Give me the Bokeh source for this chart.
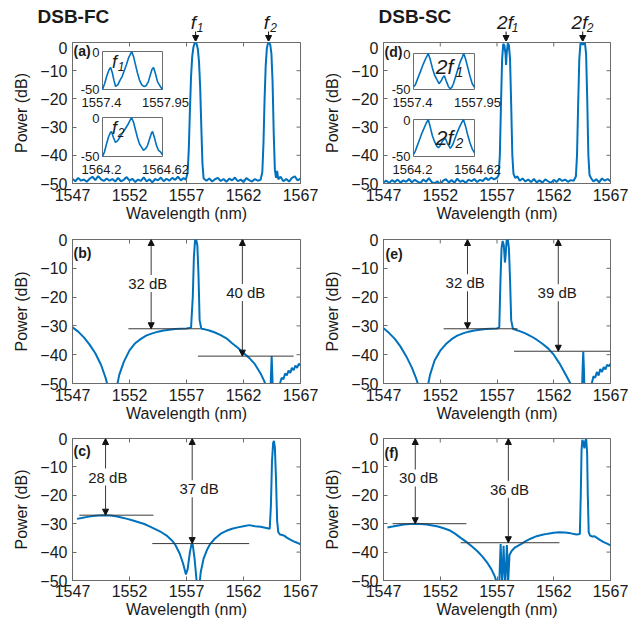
from bokeh.plotting import figure
from bokeh.layouts import gridplot, column, row
from bokeh.models import Range1d, FixedTicker, Label, Arrow, NormalHead
from bokeh.embed import file_html
from bokeh.resources import INLINE

# ---------------------------------------------------------------- data
X_RANGE = (1547, 1567)
Y_RANGE = (-50, 0)
X_TICKS = [1547, 1552, 1557, 1562, 1567]
Y_TICKS = [-50, -40, -30, -20, -10, 0]
INSET_Y = (-50, 0)

# (a) DSB-FC, optical spectrum (wavelength nm, power dB)
A_TRACE = [
    (1547.0, -48.4), (1547.25, -49.2), (1547.5, -48.0), (1547.75, -49.0), (1548.0, -48.6),
    (1548.25, -49.4), (1548.5, -48.3), (1548.75, -47.6), (1549.0, -48.8), (1549.25, -47.4),
    (1549.5, -48.5), (1549.75, -49.1), (1550.0, -48.2), (1550.25, -49.0), (1550.5, -48.4),
    (1550.75, -49.3), (1551.0, -48.0), (1551.25, -49.2), (1551.5, -48.7), (1551.75, -47.7),
    (1552.0, -49.0), (1552.25, -48.3), (1552.5, -49.5), (1552.75, -48.6), (1553.0, -49.1),
    (1553.25, -47.8), (1553.5, -49.3), (1553.75, -48.5), (1554.0, -49.6), (1554.25, -48.4),
    (1554.5, -48.9), (1554.75, -47.9), (1555.0, -49.2), (1555.25, -48.3), (1555.5, -49.0),
    (1555.75, -48.0), (1556.0, -48.7), (1556.25, -47.6), (1556.5, -48.9), (1556.75, -48.1),
    (1556.95, -48.6), (1557.1, -46.0), (1557.2, -38.0), (1557.3, -24.0), (1557.4, -12.0),
    (1557.5, -5.0), (1557.6, -1.8), (1557.7, -0.4), (1557.8, 0.0), (1557.9, -0.6),
    (1558.0, -2.5), (1558.1, -7.0), (1558.2, -16.0), (1558.3, -30.0), (1558.4, -43.0),
    (1558.5, -48.2), (1558.75, -49.0), (1559.0, -48.2), (1559.25, -49.3), (1559.5, -48.5),
    (1559.75, -48.0), (1560.0, -49.1), (1560.25, -48.4), (1560.5, -49.4), (1560.75, -48.3),
    (1561.0, -48.9), (1561.25, -47.9), (1561.5, -49.2), (1561.75, -48.6), (1562.0, -49.5),
    (1562.25, -48.1), (1562.5, -48.8), (1562.75, -49.3), (1563.0, -48.4), (1563.25, -49.0),
    (1563.5, -48.7), (1563.65, -46.0), (1563.75, -36.0), (1563.85, -20.0), (1563.95, -8.0),
    (1564.05, -2.0), (1564.15, -0.3), (1564.25, 0.0), (1564.35, -0.8), (1564.45, -4.0),
    (1564.55, -14.0), (1564.65, -32.0), (1564.75, -45.0), (1564.85, -48.0), (1564.95, -45.5),
    (1565.05, -48.5), (1565.25, -47.6), (1565.5, -49.2), (1565.75, -48.4), (1566.0, -49.3),
    (1566.25, -48.0), (1566.5, -47.5), (1566.75, -48.9), (1567.0, -48.3),
]
A_INSET1_X = (1557.4, 1557.95)
A_INSET1 = [
    (1557.40, -50), (1557.42, -42), (1557.44, -32), (1557.46, -24), (1557.475, -21),
    (1557.49, -28), (1557.505, -38), (1557.52, -46), (1557.54, -44), (1557.56, -38),
    (1557.58, -33), (1557.60, -25), (1557.62, -17), (1557.64, -8), (1557.668, 0),
    (1557.685, -7), (1557.70, -16), (1557.72, -28), (1557.74, -38), (1557.76, -44),
    (1557.78, -46), (1557.80, -45), (1557.82, -40), (1557.84, -30), (1557.855, -23),
    (1557.868, -21), (1557.885, -29), (1557.905, -40), (1557.93, -46), (1557.95, -50),
]
A_INSET2_X = (1564.2, 1564.62)
A_INSET2 = [
    (1564.200, -50), (1564.214, -44), (1564.228, -34), (1564.242, -25), (1564.256, -19),
    (1564.263, -18), (1564.277, -26), (1564.291, -32), (1564.305, -30), (1564.319, -26),
    (1564.333, -22), (1564.354, -16), (1564.375, -10), (1564.389, -5), (1564.403, 0),
    (1564.417, -6), (1564.431, -16), (1564.445, -26), (1564.459, -34), (1564.473, -38),
    (1564.487, -42), (1564.501, -40), (1564.515, -36), (1564.529, -28), (1564.543, -20),
    (1564.550, -18), (1564.564, -26), (1564.578, -36), (1564.592, -42), (1564.606, -44),
    (1564.620, -48),
]

# (d) DSB-SC
D_TRACE = [
    (1547.0, -49.6), (1547.25, -49.0), (1547.5, -49.8), (1547.75, -48.8), (1548.0, -49.5),
    (1548.25, -48.6), (1548.5, -49.7), (1548.75, -48.9), (1549.0, -49.4), (1549.25, -48.4),
    (1549.5, -49.6), (1549.75, -48.7), (1550.0, -49.3), (1550.25, -49.9), (1550.5, -48.6),
    (1550.75, -49.4), (1551.0, -48.1), (1551.25, -49.5), (1551.5, -49.9), (1551.75, -49.2),
    (1552.0, -50.3), (1552.25, -49.0), (1552.5, -48.5), (1552.75, -49.6), (1553.0, -48.8),
    (1553.25, -49.7), (1553.5, -48.3), (1553.75, -49.4), (1554.0, -48.9), (1554.25, -49.8),
    (1554.5, -48.6), (1554.75, -49.2), (1555.0, -48.4), (1555.25, -49.5), (1555.5, -48.7),
    (1555.75, -49.1), (1556.0, -48.0), (1556.25, -48.8), (1556.5, -47.9), (1556.75, -48.5),
    (1557.0, -48.0), (1557.15, -47.0), (1557.25, -40.0), (1557.35, -22.0), (1557.45, -6.0),
    (1557.55, -0.5), (1557.65, -1.0), (1557.75, -4.0), (1557.8, -8.0), (1557.85, -4.0),
    (1557.95, -0.3), (1558.05, -1.0), (1558.15, -6.0), (1558.25, -22.0), (1558.35, -40.0),
    (1558.45, -46.5), (1558.6, -48.0), (1558.8, -47.5), (1559.0, -49.0), (1559.25, -48.2),
    (1559.5, -49.3), (1559.75, -48.6), (1560.0, -49.5), (1560.25, -48.4), (1560.5, -49.6),
    (1560.75, -48.9), (1561.0, -49.7), (1561.25, -48.5), (1561.5, -49.2), (1561.75, -49.8),
    (1562.0, -48.7), (1562.25, -49.5), (1562.5, -48.3), (1562.75, -49.1), (1563.0, -48.6),
    (1563.25, -49.4), (1563.5, -48.8), (1563.75, -49.0), (1563.95, -47.5), (1564.05, -40.0),
    (1564.15, -22.0), (1564.25, -6.0), (1564.35, -0.5), (1564.45, 0.0), (1564.55, -0.8),
    (1564.65, -0.4), (1564.75, -0.2), (1564.85, -4.0), (1564.95, -20.0), (1565.05, -40.0),
    (1565.15, -47.0), (1565.3, -48.2), (1565.5, -49.3), (1565.75, -48.5), (1566.0, -49.6),
    (1566.25, -48.2), (1566.5, -49.0), (1566.75, -48.4), (1567.0, -49.2),
]
D_INSET1_X = (1557.4, 1557.95)
D_INSET1 = [
    (1557.400, -46), (1557.415, -44), (1557.43, -38), (1557.45, -30), (1557.47, -22),
    (1557.49, -14), (1557.51, -7), (1557.533, 0), (1557.55, -8), (1557.57, -20),
    (1557.59, -30), (1557.61, -36), (1557.63, -42), (1557.65, -38), (1557.665, -33),
    (1557.678, -31), (1557.695, -38), (1557.715, -46), (1557.73, -49), (1557.745, -47),
    (1557.76, -42), (1557.78, -32), (1557.80, -22), (1557.82, -12), (1557.84, -5),
    (1557.853, 0), (1557.87, -8), (1557.89, -20), (1557.91, -32), (1557.93, -42),
    (1557.95, -47),
]
D_INSET2_X = (1564.2, 1564.62)
D_INSET2 = [
    (1564.200, -47), (1564.212, -43), (1564.225, -36), (1564.24, -28), (1564.255, -20),
    (1564.27, -13), (1564.285, -6), (1564.302, 0), (1564.315, -10), (1564.33, -22),
    (1564.345, -30), (1564.36, -36), (1564.372, -38), (1564.385, -35), (1564.40, -29),
    (1564.419, -25), (1564.435, -33), (1564.454, -39), (1564.47, -34), (1564.485, -26),
    (1564.50, -18), (1564.515, -11), (1564.53, -5), (1564.544, 0), (1564.558, -9),
    (1564.572, -20), (1564.588, -31), (1564.605, -40), (1564.62, -45),
]

# (b) DSB-FC after filtering
B_TRACE = [
    (1547.0, -30.5), (1547.5, -32.0), (1548.0, -34.0), (1548.5, -36.5), (1549.0, -39.5),
    (1549.5, -43.5), (1549.9, -48.0), (1550.1, -51.0), (1550.5, -60.0), (1550.9, -51.0),
    (1551.1, -47.0), (1551.5, -42.5), (1552.0, -38.5), (1552.5, -36.0), (1553.0, -34.5),
    (1553.5, -33.3), (1554.0, -32.6), (1554.5, -32.0), (1555.0, -31.6), (1555.5, -31.3),
    (1556.0, -31.1), (1556.5, -31.0), (1557.0, -30.9), (1557.4, -30.6), (1557.55, -20.0),
    (1557.65, -6.0), (1557.75, -0.3), (1557.85, 0.0), (1557.95, -2.0), (1558.05, -12.0),
    (1558.15, -28.0), (1558.3, -31.0), (1558.6, -31.2), (1559.0, -31.6), (1559.5, -32.3),
    (1560.0, -33.2), (1560.5, -34.3), (1561.0, -36.0), (1561.5, -37.6), (1562.0, -39.4),
    (1562.5, -41.1), (1563.0, -43.3), (1563.5, -46.5), (1563.8, -49.0), (1564.0, -51.0),
    (1564.38, -51.0), (1564.43, -45.0), (1564.47, -40.5), (1564.51, -45.0), (1564.56, -51.0),
    (1565.0, -55.0), (1565.2, -50.0), (1565.35, -48.0), (1565.5, -48.5), (1565.65, -46.5),
    (1565.8, -47.2), (1565.95, -45.5), (1566.1, -46.3), (1566.25, -44.6), (1566.4, -45.4),
    (1566.55, -43.8), (1566.7, -44.6), (1566.85, -43.2), (1567.0, -43.6),
]
B_MEAS_X = [1553.9, 1561.9]
B_MEAS_LEVEL = [-31.0, -40.5]
B_MEAS_TEXT = ["32 dB", "40 dB"]
B_TEXT_POS = [(1553.6, -15.3), (1562.2, -18.4)]
B_REF_X0 = [1551.9, 1558.0]
B_REF_X1 = [1558.2, 1566.4]

# (e) DSB-SC after filtering
E_TRACE = [
    (1547.0, -30.8), (1547.5, -32.5), (1548.0, -34.5), (1548.5, -37.2), (1549.0, -40.5),
    (1549.5, -44.5), (1549.9, -48.5), (1550.1, -51.0), (1550.5, -60.0), (1550.9, -51.0),
    (1551.1, -47.0), (1551.5, -42.0), (1552.0, -38.6), (1552.5, -36.3), (1553.0, -34.6),
    (1553.5, -33.4), (1554.0, -32.6), (1554.5, -32.0), (1555.0, -31.6), (1555.5, -31.3),
    (1556.0, -31.1), (1556.5, -31.0), (1557.0, -30.9), (1557.2, -30.5), (1557.3, -15.0),
    (1557.4, -3.0), (1557.5, -0.5), (1557.6, -2.0), (1557.7, -8.0), (1557.75, -6.0),
    (1557.85, -0.3), (1557.95, 0.0), (1558.05, -3.0), (1558.15, -14.0), (1558.25, -28.0),
    (1558.4, -31.0), (1558.7, -31.4), (1559.0, -31.8), (1559.5, -32.6), (1560.0, -33.6),
    (1560.5, -34.8), (1561.0, -36.2), (1561.5, -37.8), (1562.0, -40.0), (1562.5, -43.0),
    (1563.0, -46.5), (1563.4, -49.5), (1563.6, -51.0), (1564.5, -51.0), (1564.55, -44.0),
    (1564.6, -39.0), (1564.65, -44.0), (1564.7, -51.0), (1565.1, -55.0), (1565.35, -50.0),
    (1565.5, -47.5), (1565.65, -48.0), (1565.8, -46.0), (1565.95, -47.2), (1566.1, -45.0),
    (1566.25, -46.0), (1566.4, -44.3), (1566.55, -45.1), (1566.7, -43.5), (1566.85, -44.0),
    (1567.0, -43.2),
]
E_MEAS_X = [1554.4, 1562.4]
E_MEAS_LEVEL = [-31.0, -38.8]
E_MEAS_TEXT = ["32 dB", "39 dB"]
E_TEXT_POS = [(1554.2, -15.0), (1562.3, -18.5)]
E_REF_X0 = [1552.3, 1558.5]
E_REF_X1 = [1558.8, 1567.0]

# (c) DSB-FC, second output
C_TRACE = [
    (1547.4, -28.3), (1547.8, -28.0), (1548.3, -27.6), (1548.8, -27.3), (1549.3, -27.1),
    (1549.8, -27.0), (1550.3, -27.1), (1550.8, -27.4), (1551.3, -27.8), (1551.8, -28.3),
    (1552.3, -28.9), (1552.8, -29.5), (1553.3, -30.1), (1553.8, -31.0), (1554.3, -32.0),
    (1554.8, -33.0), (1555.3, -34.3), (1555.7, -35.8), (1556.0, -37.3), (1556.4, -40.5),
    (1556.7, -44.0), (1556.95, -47.9), (1557.1, -46.0), (1557.3, -40.0), (1557.45, -37.0),
    (1557.55, -37.5), (1557.7, -42.0), (1557.85, -48.5), (1557.95, -53.0), (1558.1, -53.0),
    (1558.25, -47.0), (1558.5, -42.3), (1558.8, -39.2), (1559.1, -37.0), (1559.5, -35.2),
    (1560.0, -33.5), (1560.5, -32.5), (1561.0, -31.8), (1561.5, -31.3), (1562.0, -30.9),
    (1562.5, -30.5), (1563.0, -30.9), (1563.5, -31.1), (1564.0, -31.5), (1564.3, -31.8),
    (1564.4, -24.0), (1564.5, -8.0), (1564.6, -1.5), (1564.67, -0.8), (1564.75, -3.0),
    (1564.85, -14.0), (1564.95, -29.0), (1565.05, -33.0), (1565.2, -33.8), (1565.4, -34.0),
    (1565.6, -34.3), (1565.8, -34.9), (1566.1, -35.6), (1566.4, -36.2), (1566.7, -36.7),
    (1567.0, -37.3),
]
C_MEAS_X = [1549.9, 1557.5]
C_MEAS_LEVEL = [-27.0, -37.0]
C_MEAS_TEXT = ["28 dB", "37 dB"]
C_TEXT_POS = [(1550.1, -13.6), (1558.1, -17.7)]
C_REF_X0 = [1547.6, 1554.0]
C_REF_X1 = [1554.1, 1562.5]

# (f) DSB-SC, second output
F_TRACE = [
    (1547.35, -31.3), (1547.8, -31.0), (1548.3, -30.6), (1548.8, -30.3), (1549.3, -30.1),
    (1549.8, -30.0), (1550.3, -30.1), (1550.8, -30.3), (1551.3, -30.6), (1551.8, -31.0),
    (1552.3, -31.6), (1552.8, -32.3), (1553.3, -33.5), (1553.8, -35.0), (1554.3, -36.4),
    (1554.8, -38.0), (1555.3, -39.8), (1555.7, -41.5), (1556.1, -43.5), (1556.5, -46.0),
    (1556.8, -48.5), (1557.0, -51.0), (1557.2, -51.0), (1557.26, -44.0), (1557.32, -37.2),
    (1557.38, -44.0), (1557.45, -51.0), (1557.52, -45.0), (1557.58, -37.8), (1557.64, -45.0),
    (1557.72, -51.0), (1557.8, -45.0), (1557.87, -37.5), (1557.93, -44.0), (1557.98, -51.0),
    (1558.1, -41.0), (1558.3, -39.5), (1558.6, -38.3), (1559.15, -37.1), (1559.5, -36.2),
    (1560.0, -35.2), (1560.5, -34.4), (1561.0, -33.9), (1561.5, -33.5), (1562.0, -33.2),
    (1562.5, -33.0), (1563.0, -33.1), (1563.5, -33.4), (1564.0, -33.8), (1564.3, -33.6),
    (1564.38, -20.0), (1564.45, -4.0), (1564.52, -0.5), (1564.62, -1.5), (1564.7, -3.5),
    (1564.78, -0.8), (1564.86, -0.2), (1564.94, -5.0), (1565.0, -20.0), (1565.08, -33.0),
    (1565.2, -34.2), (1565.4, -34.5), (1565.6, -34.4), (1565.8, -35.0), (1566.1, -35.8),
    (1566.4, -36.5), (1566.7, -37.0), (1567.0, -37.6),
]
F_MEAS_X = [1549.8, 1558.0]
F_MEAS_LEVEL = [-30.0, -36.7]
F_MEAS_TEXT = ["30 dB", "36 dB"]
F_TEXT_POS = [(1550.1, -13.9), (1558.1, -17.9)]
F_REF_X0 = [1547.8, 1553.8]
F_REF_X1 = [1554.3, 1562.5]

# ---------------------------------------------------------------- style / layout
FONT = "Liberation Sans"
BLUE = "#0072BD"
TXT = "#1a1a1a"
AXC = "#6b6b6b"
REF = "#3a3a3a"
TICK_PX = 4

HEADER_H = 41
COLS = [dict(x0=0, width=320, left=72, right=20),
        dict(x0=320, width=322, left=63, right=32)]
ROWS = [dict(y0=41, height=191, top=1, bottom=49),
        dict(y0=232, height=200, top=7, bottom=49),
        dict(y0=432, height=189, top=6, bottom=41)]


def to_data(geom, px, py):
    fl, fr, ft, fb = geom
    x = X_RANGE[0] + (px - fl) * (X_RANGE[1] - X_RANGE[0]) / (fr - fl)
    y = Y_RANGE[1] - (py - ft) * (Y_RANGE[1] - Y_RANGE[0]) / (fb - ft)
    return x, y


def panel_geom(ci, ri):
    c, r = COLS[ci], ROWS[ri]
    return (c["x0"] + c["left"], c["x0"] + c["width"] - c["right"],
            r["y0"] + r["top"], r["y0"] + r["height"] - r["bottom"])


def make_panel(ci, ri, trace):
    c, r = COLS[ci], ROWS[ri]
    last = ri == 2
    p = figure(width=c["width"], height=r["height"],
               x_range=Range1d(*X_RANGE), y_range=Range1d(*Y_RANGE),
               output_backend="svg", toolbar_location=None, tools="",
               min_border_left=c["left"], min_border_right=c["right"],
               min_border_top=r["top"], min_border_bottom=r["bottom"],
               outline_line_color=AXC, outline_line_width=1,
               background_fill_color="white", border_fill_color="white")
    p.xgrid.grid_line_color = None
    p.ygrid.grid_line_color = None
    p.xaxis.ticker = FixedTicker(ticks=X_TICKS)
    p.yaxis.ticker = FixedTicker(ticks=Y_TICKS)
    for ax in list(p.xaxis) + list(p.yaxis):
        ax.major_tick_in = TICK_PX
        ax.major_tick_out = 0
        ax.minor_tick_line_color = None
        ax.axis_line_color = AXC
        ax.major_tick_line_color = AXC
        ax.major_label_text_font = FONT
        ax.major_label_text_font_size = "16px"
        ax.major_label_text_color = TXT
        ax.axis_label_text_font = FONT
        ax.axis_label_text_font_size = "16px"
        ax.axis_label_text_font_style = "normal"
        ax.axis_label_text_color = TXT
    p.xaxis.axis_label = "Wavelength (nm)"
    p.yaxis.axis_label = "Power (dB)"
    p.xaxis.major_label_standoff = 4 if last else 5
    p.xaxis.axis_label_standoff = 1
    p.yaxis.major_label_standoff = 5
    p.yaxis.axis_label_standoff = 7
    geom = panel_geom(ci, ri)
    fl, fr, ft, fb = geom
    # inward ticks on the top and right edges of the box
    ty = TICK_PX * (Y_RANGE[1] - Y_RANGE[0]) / (fb - ft)
    tx = TICK_PX * (X_RANGE[1] - X_RANGE[0]) / (fr - fl)
    p.segment(x0=X_TICKS, y0=[Y_RANGE[1]] * len(X_TICKS), x1=X_TICKS,
              y1=[Y_RANGE[1] - ty] * len(X_TICKS), line_color=AXC, line_width=1)
    p.segment(x0=[X_RANGE[1]] * len(Y_TICKS), y0=Y_TICKS,
              x1=[X_RANGE[1] - tx] * len(Y_TICKS), y1=Y_TICKS, line_color=AXC, line_width=1)
    wl = [t[0] for t in trace]
    pw = [t[1] for t in trace]
    p.line(wl, pw, line_color=BLUE, line_width=2)
    return p, geom


def make_header(ci):
    c = COLS[ci]
    geom = panel_geom(ci, 0)
    fl, fr, ft, fb = geom
    sx = (X_RANGE[1] - X_RANGE[0]) / (fr - fl)
    sy = (Y_RANGE[1] - Y_RANGE[0]) / (fb - ft)
    xr = Range1d(X_RANGE[0] - (fl - c["x0"]) * sx, X_RANGE[1] + (c["x0"] + c["width"] - fr) * sx)
    yr = Range1d(Y_RANGE[1] + (ft - HEADER_H) * sy, Y_RANGE[1] + ft * sy)
    h = figure(width=c["width"], height=HEADER_H, x_range=xr, y_range=yr,
               x_axis_type=None, y_axis_type=None, output_backend="svg",
               toolbar_location=None, tools="", min_border_left=0, min_border_right=0,
               min_border_top=0, min_border_bottom=0, outline_line_color=None,
               background_fill_color="white", border_fill_color="white")
    h.xgrid.grid_line_color = None
    h.ygrid.grid_line_color = None
    return h, geom


def text_px(p, geom, px, py, s, size, style="normal", align="center", baseline="middle"):
    x, y = to_data(geom, px, py)
    p.add_layout(Label(x=x, y=y, text=s, text_font=FONT, text_font_size=f"{size}px",
                       text_font_style=style, text_align=align, text_baseline=baseline,
                       text_color=TXT))


def head():
    return NormalHead(size=6, fill_color="#111111", line_color="#111111", line_width=1)


def marker_arrow(h, geom, x, px_top):
    _, y0 = to_data(geom, 0, px_top)
    _, y1 = to_data(geom, 0, HEADER_H)
    h.add_layout(Arrow(x_start=x, y_start=y0, x_end=x, y_end=y1, end=head(),
                       line_color="#111111", line_width=1))


def measurements(p, xs, levels, texts, tpos, rx0, rx1):
    p.segment(x0=rx0, y0=levels, x1=rx1, y1=levels, line_color=REF, line_width=1)
    for x, lv, t, (tx, ty) in zip(xs, levels, texts, tpos):
        p.add_layout(Arrow(x_start=x, y_start=Y_RANGE[1], x_end=x, y_end=lv,
                           start=head(), end=head(), line_color=REF, line_width=1))
        p.add_layout(Label(x=tx, y=ty, text=t, text_font=FONT, text_font_size="15px",
                           text_align="center", text_baseline="middle", text_color=TXT,
                           background_fill_color="white"))


def add_inset(p, geom, key, box, xlim, trace, lab_parts):
    fl, fr, ft, fb = geom
    bl, br, bt, bb = box
    x0, x1 = xlim
    y0, y1 = INSET_Y
    sx = (x1 - x0) / (br - bl)
    sy = (y1 - y0) / (bb - bt)
    xr = Range1d(x0 - (bl - fl) * sx, x1 + (fr - br) * sx)
    yr = Range1d(y0 - (fb - bb) * sy, y1 + (bt - ft) * sy)
    p.extra_x_ranges = {**p.extra_x_ranges, key + "x": xr}
    p.extra_y_ranges = {**p.extra_y_ranges, key + "y": yr}
    p.quad(left=[x0], right=[x1], bottom=[y0], top=[y1],
           x_range_name=key + "x", y_range_name=key + "y",
           fill_color="white", line_color=AXC, line_width=1)
    p.line([t[0] for t in trace], [t[1] for t in trace],
           x_range_name=key + "x", y_range_name=key + "y",
           line_color=BLUE, line_width=1.6)
    # inset tick labels
    text_px(p, geom, bl - 3, bt + 1, f"{y1:g}", 13, align="right")
    text_px(p, geom, bl - 3, bb, f"{y0:g}", 13, align="right")
    text_px(p, geom, bl - 1, bb + 12.5, f"{x0:g}", 13)
    text_px(p, geom, br + 3, bb + 12.5, f"{x1:g}", 13)
    for (s, px, py, size) in lab_parts:
        text_px(p, geom, px, py, s, size, style="italic")


# ---------------------------------------------------------------- headers
ha, gha = make_header(0)
text_px(ha, gha, 37, 16, "DSB-FC", 19, style="bold", align="left")
text_px(ha, gha, 193, 21.5, "f", 19, style="italic")
text_px(ha, gha, 199.5, 27, "1", 12, style="italic")
text_px(ha, gha, 266, 21.5, "f", 19, style="italic")
text_px(ha, gha, 273, 27, "2", 12, style="italic")
marker_arrow(ha, gha, 1557.8, 31)
marker_arrow(ha, gha, 1564.2, 31)

hd, ghd = make_header(1)
text_px(hd, ghd, 378, 16, "DSB-SC", 19, style="bold", align="left")
text_px(hd, ghd, 504.5, 21.5, "2f", 19, style="italic")
text_px(hd, ghd, 514.5, 27, "1", 12, style="italic")
text_px(hd, ghd, 579, 21.5, "2f", 19, style="italic")
text_px(hd, ghd, 589.5, 27, "2", 12, style="italic")
marker_arrow(hd, ghd, 1557.8, 31)
marker_arrow(hd, ghd, 1564.55, 31)

# ---------------------------------------------------------------- panels
pa, ga = make_panel(0, 0, A_TRACE)
text_px(pa, ga, 73, 50, "(a)", 14, style="bold", align="left")
add_inset(pa, ga, "i1", (102, 162, 51, 89), A_INSET1_X, A_INSET1,
          [("f", 114, 61, 18), ("1", 120.5, 66, 12)])
add_inset(pa, ga, "i2", (102, 162, 117, 156), A_INSET2_X, A_INSET2,
          [("f", 114, 127, 18), ("2", 120.5, 132, 12)])

pd_, gd = make_panel(1, 0, D_TRACE)
text_px(pd_, gd, 384, 51, "(d)", 14, style="bold", align="left")
add_inset(pd_, gd, "i1", (413, 474, 53, 89), D_INSET1_X, D_INSET1,
          [("2f", 444, 66, 21), ("1", 459, 71, 14)])
add_inset(pd_, gd, "i2", (413, 474, 119, 156), D_INSET2_X, D_INSET2,
          [("2f", 444, 137, 21), ("2", 459, 142, 14)])

pb, gb = make_panel(0, 1, B_TRACE)
text_px(pb, gb, 73, 252, "(b)", 14, style="bold", align="left")
measurements(pb, B_MEAS_X, B_MEAS_LEVEL, B_MEAS_TEXT, B_TEXT_POS, B_REF_X0, B_REF_X1)

pe, ge = make_panel(1, 1, E_TRACE)
text_px(pe, ge, 385, 253, "(e)", 14, style="bold", align="left")
measurements(pe, E_MEAS_X, E_MEAS_LEVEL, E_MEAS_TEXT, E_TEXT_POS, E_REF_X0, E_REF_X1)

pc, gc = make_panel(0, 2, C_TRACE)
text_px(pc, gc, 73, 450, "(c)", 14, style="bold", align="left")
measurements(pc, C_MEAS_X, C_MEAS_LEVEL, C_MEAS_TEXT, C_TEXT_POS, C_REF_X0, C_REF_X1)

pf, gf = make_panel(1, 2, F_TRACE)
text_px(pf, gf, 384, 452, "(f)", 14, style="bold", align="left")
measurements(pf, F_MEAS_X, F_MEAS_LEVEL, F_MEAS_TEXT, F_TEXT_POS, F_REF_X0, F_REF_X1)

panels = gridplot([[pa, pd_], [pb, pe], [pc, pf]], toolbar_location=None)
page = column(row(ha, hd), panels)

open("out.html", "w").write(file_html(page, INLINE))
